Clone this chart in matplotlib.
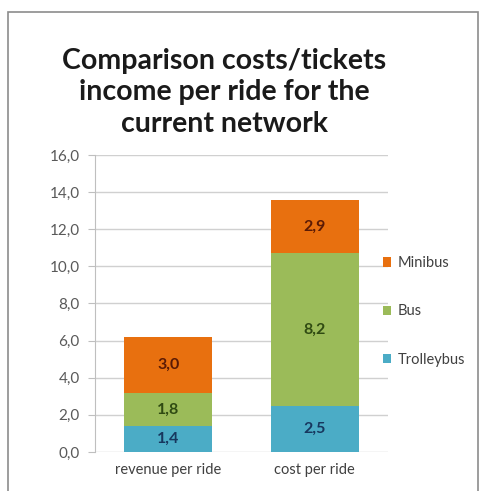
import matplotlib.pyplot as plt
from matplotlib.patches import Rectangle

plt.rcParams['font.family'] = ['Lato', 'DejaVu Sans']

categorias = ["revenue per ride", "cost per ride"]
trolleybus = [1.4, 2.5]
bus = [1.8, 8.2]
minibus = [3.0, 2.9]
ticks_y = [0, 2, 4, 6, 8, 10, 12, 14, 16]

cor_trolley = "#4BACC6"
cor_bus = "#9BBB59"
cor_mini = "#E8700F"

fig = plt.figure(figsize=(4.8, 4.91), dpi=100)
ax = fig.add_axes([0.198, 0.0794, 0.61, 0.605])

x = list(range(len(categorias)))
b1 = ax.bar(x, trolleybus, width=0.6, color=cor_trolley, label="Trolleybus", zorder=3)
base2 = trolleybus
b2 = ax.bar(x, bus, width=0.6, bottom=base2, color=cor_bus, label="Bus", zorder=3)
base3 = [a + b for a, b in zip(trolleybus, bus)]
b3 = ax.bar(x, minibus, width=0.6, bottom=base3, color=cor_mini, label="Minibus", zorder=3)

# rotulos com virgula decimal
for barras, cor in [(b1, "#17375E"), (b2, "#2F4A12"), (b3, "#5A1A05")]:
    ax.bar_label(barras, labels=[f"{v:.1f}".replace(".", ",") for v in barras.datavalues],
                 label_type="center", color=cor, fontsize=11.5, fontweight="bold")

ax.set_ylim(0, 16)
ax.set_xlim(-0.5, 1.5)
ax.set_yticks(ticks_y)
ax.set_yticklabels([f"{t:.1f}".replace(".", ",") for t in ticks_y], color="#595959", fontsize=11)
ax.set_xticks(x)
ax.set_xticklabels(categorias, color="#404040", fontsize=10.5)
ax.tick_params(axis="x", length=0, pad=8)
ax.tick_params(axis="y", length=5, color="#BFBFBF", pad=6)
ax.grid(axis="y", color="#D0D0D0", linewidth=1, zorder=0)
for lado in ["top", "right", "bottom"]:
    ax.spines[lado].set_visible(False)
ax.spines["left"].set_color("#BFBFBF")

handles = [b3, b2, b1]
ax.legend(handles, ["Minibus", "Bus", "Trolleybus"], loc="upper left",
          bbox_to_anchor=(0.770, 0.505), bbox_transform=fig.transFigure,
          frameon=False, fontsize=10.5, handlelength=0.6, handleheight=0.6,
          handletextpad=0.4, labelspacing=2.35, labelcolor="#404040")

fig.text(0.467, 0.812, "Comparison costs/tickets\nincome per ride for the\ncurrent network",
         ha="center", va="center", fontsize=20.5, fontweight="bold", linespacing=1.25,
         color="#1a1a1a")

# moldura da figura
fig.patches.append(Rectangle((8 / 480, -0.01), 470 / 480, 1 - 12 / 491 + 0.01,
                             transform=fig.transFigure, fill=False,
                             edgecolor="#8C8C8C", linewidth=1.2))

fig.savefig("out.png", dpi=100)
